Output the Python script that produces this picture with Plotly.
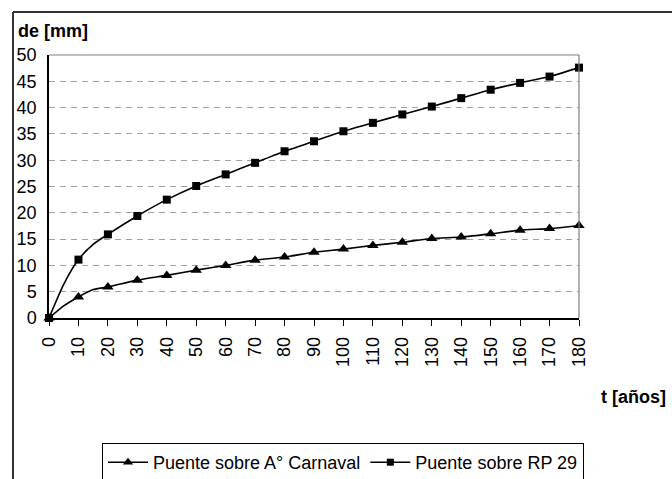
import plotly.graph_objects as go

# ---- data ----
t_marks = [0, 10, 20, 30, 40, 50, 60, 70, 80, 90, 100, 110, 120, 130, 140, 150, 160, 170, 180]
carnaval = [0, 4.0, 5.9, 7.2, 8.1, 9.1, 10.0, 11.0, 11.6, 12.5, 13.1, 13.8, 14.4, 15.1, 15.4, 16.0, 16.7, 17.0, 17.6]
rp29 = [0, 11.1, 15.9, 19.4, 22.5, 25.1, 27.3, 29.5, 31.7, 33.6, 35.5, 37.1, 38.7, 40.2, 41.8, 43.4, 44.7, 45.9, 47.6]

# unmarked intermediate points visible as bends in the curves
t_extra = [5, 15]
carnaval_extra = [2.3, 5.4]
rp29_extra = [6.4, 14.0]

tick_vals = t_marks
tick_text = [str(v) for v in t_marks]

W, H = 672, 479
L, R, T, B = 49, 93, 55, 161
PW, PH = W - L - R, H - T - B


def fx(px):
    return (px - L) / PW


def fy(py):
    return (H - B - py) / PH


def merged(xs, ys, xe, ye):
    pts = sorted(list(zip(xs, ys)) + list(zip(xe, ye)))
    return [p[0] for p in pts], [p[1] for p in pts]


FONT = "Arial, Liberation Sans, sans-serif"
FS = 18
fig = go.Figure()

series = [
    ("Puente sobre A° Carnaval", carnaval, carnaval_extra, "triangle-up", 10),
    ("Puente sobre RP 29", rp29, rp29_extra, "square", 8),
]
for name, ys, ye, sym, sz in series:
    xa, ya = merged(t_marks, ys, t_extra, ye)
    fig.add_trace(go.Scatter(x=xa, y=ya, mode="lines", showlegend=False,
                             line=dict(color="black", width=1.6, shape="spline", smoothing=0.6),
                             cliponaxis=False, hoverinfo="skip"))
    fig.add_trace(go.Scatter(x=t_marks, y=ys, mode="markers", showlegend=False,
                             marker=dict(symbol=sym, size=sz, color="black"),
                             cliponaxis=False))
    fig.add_trace(go.Scatter(x=[None], y=[None], mode="lines+markers", name=name,
                             line=dict(color="black", width=1.6),
                             marker=dict(symbol=sym, size=sz - 1, color="black")))

fig.update_layout(
    width=W, height=H,
    margin=dict(l=L, r=R, t=T, b=B, pad=0, autoexpand=False),
    paper_bgcolor="white", plot_bgcolor="white",
    font=dict(family=FONT, size=FS, color="black"),
    xaxis=dict(range=[0, 180], tickvals=tick_vals, ticktext=tick_text, tickangle=-90,
               ticks="outside", ticklen=6, tickcolor="black", tickwidth=1,
               showline=True, linecolor="black", linewidth=1.5,
               showgrid=False, zeroline=False, ticklabelstandoff=4,
               tickfont=dict(size=FS), automargin=False),
    yaxis=dict(range=[0, 50], dtick=5, ticks="", showline=True, linecolor="black", linewidth=1.5,
               showgrid=True, gridcolor="#a0a0a0", gridwidth=1, griddash="6px,5px",
               zeroline=False, ticklabelstandoff=7, tickfont=dict(size=FS), automargin=False),
    legend=dict(orientation="h", x=fx(343), xanchor="center", y=fy(443), yanchor="top",
                bordercolor="black", borderwidth=1, bgcolor="white",
                font=dict(size=FS), itemwidth=40, tracegroupgap=0),
    shapes=[
        # plot-area top and right edges
        dict(type="line", xref="paper", yref="paper", x0=0, x1=1, y0=1, y1=1,
             line=dict(color="#808080", width=1.2)),
        dict(type="line", xref="paper", yref="paper", x0=1, x1=1, y0=0, y1=1,
             line=dict(color="#808080", width=1.2)),
        # outer chart frame
        dict(type="line", xref="paper", yref="paper", x0=fx(13), x1=fx(700), y0=fy(12), y1=fy(12),
             line=dict(color="#333333", width=2)),
        dict(type="line", xref="paper", yref="paper", x0=fx(13), x1=fx(13), y0=fy(12), y1=fy(520),
             line=dict(color="#333333", width=2)),
    ],
    annotations=[
        dict(text="<b>de [mm]</b>", xref="paper", yref="paper", x=fx(16), y=fy(31),
             xanchor="left", yanchor="middle", showarrow=False, font=dict(size=FS)),
        dict(text="<b>t [años]</b>", xref="paper", yref="paper", x=fx(668), y=fy(397),
             xanchor="right", yanchor="middle", showarrow=False, font=dict(size=FS)),
    ],
)

fig.write_html("out.html", config={"displayModeBar": False},
               post_script="document.body.style.margin='0';document.body.style.overflow='hidden';")
